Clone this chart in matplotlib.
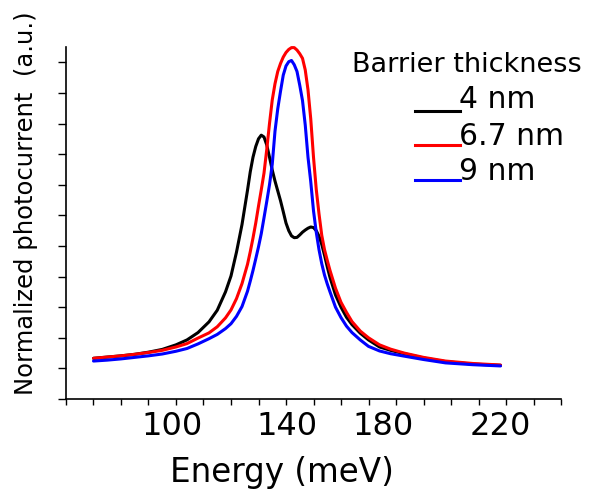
import numpy as np
import matplotlib
matplotlib.use("Agg")
import matplotlib.pyplot as plt
from matplotlib.lines import Line2D
from matplotlib.transforms import ScaledTranslation

# values (energy in meV, photocurrent normalised)
energy = [70, 75, 80, 85, 90, 95, 100, 104, 108, 112, 115, 118, 120, 122, 124,
          126, 127, 128, 129, 130, 131, 132, 133, 134, 135, 136, 137, 138, 139,
          140, 141, 142, 143, 144, 145, 146, 147, 148, 149, 150, 151, 152, 153,
          154, 155, 156, 158, 160, 162, 164, 167, 170, 174, 178, 183, 190, 198,
          208, 218]

pc_4nm = [0.133, 0.137, 0.141, 0.146, 0.153, 0.162, 0.177, 0.193, 0.217, 0.252,
          0.290, 0.350, 0.402, 0.480, 0.570, 0.682, 0.742, 0.790, 0.825, 0.850,
          0.862, 0.856, 0.830, 0.790, 0.748, 0.712, 0.680, 0.648, 0.612, 0.575,
          0.550, 0.533, 0.527, 0.528, 0.536, 0.545, 0.552, 0.558, 0.562, 0.560,
          0.550, 0.532, 0.505, 0.470, 0.432, 0.397, 0.340, 0.300, 0.267, 0.243,
          0.215, 0.193, 0.170, 0.159, 0.148, 0.134, 0.122, 0.114, 0.110]

pc_67nm = [0.133, 0.137, 0.141, 0.146, 0.152, 0.159, 0.170, 0.181, 0.199, 0.216,
           0.236, 0.265, 0.291, 0.328, 0.377, 0.440, 0.481, 0.526, 0.575, 0.630,
           0.683, 0.738, 0.815, 0.900, 0.977, 1.030, 1.070, 1.096, 1.117, 1.132,
           1.142, 1.148, 1.148, 1.140, 1.128, 1.113, 1.075, 1.010, 0.915, 0.790,
           0.685, 0.605, 0.535, 0.488, 0.453, 0.420, 0.362, 0.316, 0.283, 0.253,
           0.222, 0.200, 0.177, 0.163, 0.150, 0.136, 0.124, 0.116, 0.111]

pc_9nm = [0.124, 0.127, 0.131, 0.136, 0.141, 0.147, 0.156, 0.165, 0.180, 0.197,
          0.211, 0.230, 0.246, 0.270, 0.302, 0.352, 0.385, 0.420, 0.458, 0.497,
          0.540, 0.592, 0.645, 0.700, 0.767, 0.875, 0.948, 1.005, 1.058, 1.088,
          1.102, 1.106, 1.092, 1.070, 1.025, 0.975, 0.895, 0.790, 0.710, 0.615,
          0.545, 0.488, 0.442, 0.405, 0.376, 0.350, 0.300, 0.266, 0.238, 0.217,
          0.193, 0.172, 0.157, 0.148, 0.140, 0.129, 0.118, 0.112, 0.108]

series = [pc_4nm, pc_67nm, pc_9nm]
labels = ["4 nm", "6.7 nm", "9 nm"]
colors = ["black", "red", "blue"]

W, H = 597, 490
fig = plt.figure(figsize=(W / 100, H / 100), dpi=100)
ax = fig.add_axes([66 / W, (H - 399) / H, (561 - 66) / W, (399 - 47) / H])

for y, c in zip(series, colors):
    ax.plot(energy, y, color=c, lw=2.2, solid_capstyle="round",
            solid_joinstyle="round", clip_on=False)

ax.set_xlim(60, 240)
ax.set_ylim(0, 1.15)
ax.set_xticks([100, 140, 180, 220])
ax.set_xticks(np.arange(60, 241, 10), minor=True)
ax.set_yticks(np.arange(0, 1.11, 0.1))
ax.set_yticklabels([])
ax.tick_params(axis="x", which="both", direction="out", length=4.5, width=1,
               labelsize=23, pad=4)
ax.tick_params(axis="y", which="both", direction="out", length=6, width=1)

for side in ["top", "right"]:
    ax.spines[side].set_visible(False)
for side in ["left", "bottom"]:
    ax.spines[side].set_linewidth(1.2)

# tick labels in the reference sit a little off their ticks
for lbl, dx in zip(ax.get_xticklabels(), [-4, 1, -13, -5.5]):
    lbl.set_transform(lbl.get_transform() + ScaledTranslation(dx / 100, 0, fig.dpi_scale_trans))

ax.set_xlabel("Energy (meV)", fontsize=23.5)
ax.xaxis.set_label_coords(0.436, -0.163)
ax.set_ylabel("Normalized photocurrent  (a.u.)", fontsize=17.5)
ax.yaxis.set_label_coords(-0.057, 0.557)

# legend drawn by hand: short line sitting on the text baseline
fig.text(352 / W, (H - 72) / H, "Barrier thickness", fontsize=19.5,
         ha="left", va="baseline")
rows = [(108.5, 111), (145, 145.5), (180, 180)]
for (base, ly), lab, c in zip(rows, labels, colors):
    fig.add_artist(Line2D([415 / W, 460 / W], [(H - ly) / H] * 2,
                          transform=fig.transFigure, color=c, lw=2.2))
    fig.text(459 / W, (H - base) / H, lab, fontsize=21.5, ha="left", va="baseline")

fig.savefig("out.png", dpi=100)
